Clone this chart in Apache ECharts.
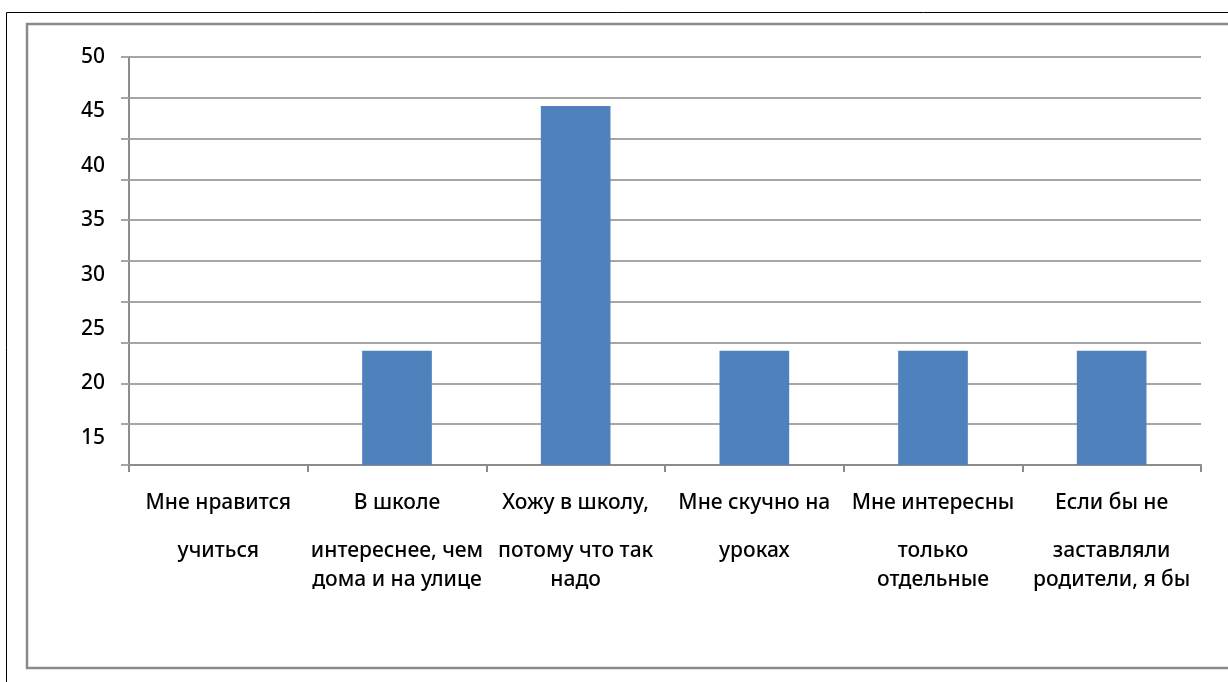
<!DOCTYPE html>
<html>
<head>
<meta charset="utf-8">
<script src="https://cdn.jsdelivr.net/npm/echarts@6/dist/echarts.min.js"></script>
<style>
  html, body { margin: 0; padding: 0; background: #fff; }
  #chart { width: 1228px; height: 682px; }
</style>
</head>
<body>
<div id="chart"></div>
<script>
// Survey answers (each category label split into its printed lines)
const categoryLines = [
  ['Мне нравится', 'учиться'],
  ['В школе', 'интереснее, чем', 'дома и на улице'],
  ['Хожу в школу,', 'потому что так', 'надо'],
  ['Мне скучно на', 'уроках'],
  ['Мне интересны', 'только', 'отдельные'],
  ['Если бы не', 'заставляли', 'родители, я бы']
];
// Share of answers, %
const values = [0, 14, 44, 14, 14, 14];
// Printed value labels on the left scale
const yTickLabels = [15, 20, 25, 30, 35, 40, 45, 50];

const categories = categoryLines.map(l => l.join('\n'));
const FONT = '"Noto Sans", "Liberation Sans", sans-serif';

const chart = echarts.init(document.getElementById('chart'), null, { renderer: 'canvas' });

chart.setOption({
  animation: false,
  backgroundColor: '#ffffff',
  graphic: [
    {
      type: 'rect', silent: true, z: -1,
      shape: { x: 6.5, y: 12.5, width: 1400, height: 900 },
      style: { fill: null, stroke: '#000000', lineWidth: 1 }
    },
    {
      type: 'rect', silent: true, z: -1,
      shape: { x: 27, y: 24, width: 1400, height: 644 },
      style: { fill: null, stroke: '#8a8a8a', lineWidth: 2.5 }
    }
  ],
  grid: { left: 129, right: 27, top: 57, bottom: 217, containLabel: false },
  xAxis: {
    type: 'category',
    data: categories,
    axisLine: { lineStyle: { color: '#8c8c8c', width: 2 } },
    axisTick: { show: true, alignWithLabel: false, length: 7, lineStyle: { color: '#8c8c8c', width: 2 } },
    axisLabel: {
      interval: 0,
      margin: 5,
      color: '#000',
      fontFamily: FONT,
      fontSize: 21,
      formatter: function (v) {
        const lines = v.split('\n');
        return lines.map((s, i) => i === 0 ? '{a|' + s + '}' : '{b|' + s + '}').join('\n');
      },
      rich: {
        a: { fontFamily: FONT, fontSize: 21, fontWeight: 500, color: '#000', lineHeight: 67 },
        b: { fontFamily: FONT, fontSize: 21, fontWeight: 500, color: '#000', lineHeight: 29 }
      }
    },
    splitLine: { show: false }
  },
  yAxis: [
    {
      type: 'value',
      min: 0, max: 50, interval: 5,
      axisLine: { show: true, lineStyle: { color: '#8c8c8c', width: 2 } },
      axisTick: { show: true, length: 8, lineStyle: { color: '#a6a6a6', width: 2 } },
      axisLabel: { show: false },
      splitLine: { show: true, lineStyle: { color: '#a6a6a6', width: 2 } }
    },
    {
      type: 'value',
      position: 'left',
      min: 12.5, max: 50, interval: 2.5,
      axisLine: { show: false },
      axisTick: { show: false },
      splitLine: { show: false },
      axisLabel: {
        margin: 24,
        color: '#000',
        fontFamily: FONT,
        fontSize: 21,
        fontWeight: 500,
        formatter: function (v) {
          return yTickLabels.indexOf(Math.round(v * 10) / 10) >= 0 ? String(v) : '';
        }
      }
    }
  ],
  series: [
    {
      type: 'bar',
      yAxisIndex: 0,
      data: values,
      barWidth: '39%',
      itemStyle: { color: '#4f81bd' }
    }
  ]
});
</script>
</body>
</html>
